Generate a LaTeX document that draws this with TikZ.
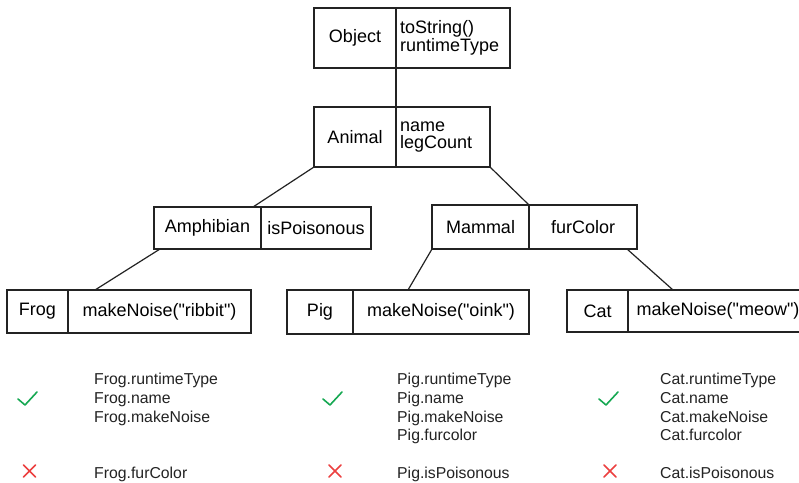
\documentclass[tikz,border=0pt]{standalone}
\usepackage{fontspec}
\setmainfont{Liberation Sans}[Ligatures=TeXOff]
\usetikzlibrary{positioning}
\definecolor{boxline}{RGB}{35, 35, 35}
\definecolor{tickGreen}{RGB}{22, 168, 82}
\definecolor{crossRed}{RGB}{236, 64, 64}
\tikzset{
  nameBox/.style={
    draw=boxline,
    line width=1.3pt,
    rectangle,
    inner sep=0pt,
    outer sep=0pt,
    anchor=north west,
    font=\fontsize{18}{16.5}\selectfont
  },
  fieldBox/.style={
    nameBox,
    anchor=west,
    align=center
  },
  fieldList/.style={
    fieldBox,
    align=left,
    inner xsep=4pt
  },
  link/.style={
    draw=boxline,
    line width=1.2pt
  },
  memberList/.style={
    anchor=north west,
    inner sep=0pt,
    align=left,
    font=\fontsize{15.8}{18.7}\selectfont,
    text=boxline
  },
  okMark/.style={
    draw=tickGreen,
    line width=1.6pt,
    line cap=round,
    line join=round
  },
  noMark/.style={
    draw=crossRed,
    line width=1.5pt,
    line cap=round
  }
}

\begin{document}
\begin{tikzpicture}[x=1pt, y=-1pt]
  \useasboundingbox (0,0) rectangle (799,482);
  \clip (0,0) rectangle (799,482);
  \fill[white] (0,0) rectangle (799,482);

  % class boxes
  \node[nameBox, minimum width=82pt, minimum height=60pt] (objName) at (314,8) {Object};
  \node[fieldList, minimum height=60pt, text width=106pt, right=0pt of objName] (objField) {toString()\\runtimeType};

  \node[nameBox, minimum width=82pt, minimum height=60pt] (aniName) at (314,107) {Animal};
  \node[fieldList, minimum height=60pt, text width=86pt, right=0pt of aniName] (aniField) {name\\legCount};

  \node[nameBox, minimum width=107pt, minimum height=42pt] (amphName) at (154,207) {Amphibian};
  \node[fieldBox, minimum width=110pt, minimum height=42pt, right=0pt of amphName] (amphField) {isPoisonous};

  \node[nameBox, minimum width=97pt, minimum height=44pt] (mamName) at (432,205) {Mammal};
  \node[fieldBox, minimum width=108pt, minimum height=44pt, right=0pt of mamName] (mamField) {furColor};

  \node[nameBox, minimum width=61pt, minimum height=43pt] (frogName) at (7,290) {Frog};
  \node[fieldBox, minimum width=183pt, minimum height=43pt, right=0pt of frogName] (frogField) {makeNoise("ribbit")};

  \node[nameBox, minimum width=66pt, minimum height=44pt] (pigName) at (287,290) {Pig};
  \node[fieldBox, minimum width=176pt, minimum height=44pt, right=0pt of pigName] (pigField) {makeNoise("oink")};

  \node[nameBox, minimum width=61pt, minimum height=42pt] (catName) at (567,290) {Cat};
  \node[fieldBox, minimum width=180pt, minimum height=42pt, right=0pt of catName] (catField) {makeNoise("meow")};

  % inheritance links
  \draw[link] (objName.south east) -- (aniName.north east);
  \draw[link] (aniName.south west) -- ([xshift=-8pt]amphName.north east);
  \draw[link] (aniField.south east) -- (mamName.north east);
  \draw[link] ([xshift=6pt]amphName.south west) -- ([xshift=27pt]frogField.north west);
  \draw[link] (mamName.south west) -- ([xshift=55pt]pigField.north west);
  \draw[link] ([xshift=-10pt]mamField.south east) -- ([xshift=45pt]catField.north west);

  % accessible members
  \node[memberList] (frogOk) at (94,373) {Frog.runtimeType\\Frog.name\\Frog.makeNoise};
  \node[memberList] (pigOk) at (397,373) {Pig.runtimeType\\Pig.name\\Pig.makeNoise\\Pig.furcolor};
  \node[memberList] (catOk) at (660,373) {Cat.runtimeType\\Cat.name\\Cat.makeNoise\\Cat.furcolor};
  \node[memberList] (frogNo) at (94,467) {Frog.furColor};
  \node[memberList] (pigNo) at (397,467) {Pig.isPoisonous};
  \node[memberList] (catNo) at (660,467) {Cat.isPoisonous};

  \foreach \x in {18,323,599}
    \draw[okMark] (\x,399) -- ++(7,6) -- ++(12,-13);
  \foreach \x in {29.5,335,610}
    \draw[noMark] (\x-6,465) -- (\x+6,477) (\x-6,477) -- (\x+6,465);
\end{tikzpicture}
\end{document}
